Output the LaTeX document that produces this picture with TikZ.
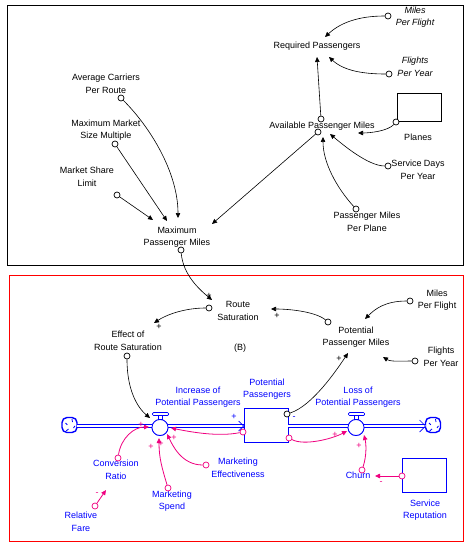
\documentclass[tikz,border=0pt]{standalone}
\usepackage{fontspec}
\setmainfont{Liberation Sans}
\usetikzlibrary{arrows.meta}
\definecolor{vblue}{RGB}{0,0,255}
\definecolor{vpink}{RGB}{240,0,128}
\definecolor{vred}{RGB}{255,0,0}
\begin{document}
\begin{tikzpicture}[x=1bp,y=-1bp,
 lab/.style={align=center,inner sep=0pt,font=\fontsize{9bp}{12.5bp}\selectfont},
 blab/.style={lab,text=vblue},
 ilab/.style={lab,font=\fontsize{9bp}{12.5bp}\selectfont\itshape},
 src/.style={circle,draw,inner sep=0pt,minimum size=6bp,line width=0.7bp,fill=white},
 psrc/.style={src,draw=vpink},
 lnk/.style={line width=0.6bp,-{Triangle[length=5bp,width=4.5bp]}},
 plnk/.style={lnk,draw=vpink,line width=0.8bp},
 pipe/.style={draw=vblue,double=white,double distance=2.2bp,line width=0.9bp},
 sgn/.style={inner sep=0pt,font=\fontsize{9bp}{10bp}\selectfont},
 psgn/.style={sgn,text=vpink},
 bsgn/.style={sgn,text=vblue},
 stockbox/.style={rectangle,draw=vblue,line width=0.8bp,minimum width=44bp,minimum height=34bp,inner sep=0pt},
 valve/.style={circle,draw=vblue,line width=0.8bp,minimum size=16bp,inner sep=0pt,fill=white},
 cloudy/.style={rectangle,rounded corners=5bp,draw=vblue,line width=1.4bp,minimum width=15bp,minimum height=15bp,inner sep=0pt,fill=white}
]
\useasboundingbox (0,0) rectangle (471,551);
\fill[white] (0,0) rectangle (471,551);
% frames
\draw[line width=0.9bp] (7,5) rectangle (463,265);
\draw[vred,line width=0.9bp] (9,275) rectangle (463,541);

% ---------- top box ----------
\node[ilab] (mpfA) at (415,17) {Miles\\Per Flight};
\node[src] (mpfAc) at (388,16) {};
\node[lab] (rp) at (317,46) {Required Passengers};
\coordinate (rpa1) at (325,37);
\coordinate (rpa2) at (329,57);
\coordinate (rpa3) at (317,57);
\node[ilab] (fpyA) at (415,67) {Flights\\Per Year};
\node[src] (fpyAc) at (389,74) {};
\node[rectangle,draw,line width=0.8bp,minimum width=44bp,minimum height=28bp,inner sep=0pt] (planes) at (419,107) {};
\node[lab] (planesl) at (418,137) {Planes};
\node[src] (planesc) at (396,122) {};
\node[lab] (apm) at (322,126) {Available Passenger Miles};
\node[src] (apmc1) at (321,119) {};
\node[src] (apmc2) at (318,132) {};
\coordinate (apma1) at (358,133);
\coordinate (apma2) at (323,137);
\coordinate (apma3) at (330,134);
\node[lab] (sdpy) at (418,170) {Service Days\\Per Year};
\node[src] (sdpyc) at (388,166) {};
\node[lab] (pmpp) at (367,222) {Passenger Miles\\Per Plane};
\node[src] (pmppc) at (356,209) {};
\node[lab] (ac) at (106,84) {Average Carriers\\Per Route};
\node[src] (acc) at (121,98) {};
\node[lab] (mms) at (106,130) {Maximum Market\\Size Multiple};
\node[src] (mmsc) at (115,144) {};
\node[lab] (msl) at (87,177) {Market Share\\Limit};
\node[src] (mslc) at (117,195) {};
\node[lab] (mpm) at (177,237) {Maximum\\Passenger Miles};
\node[src] (mpmc) at (181,250) {};
\coordinate (mpma1) at (153,220);
\coordinate (mpma2) at (167,221);
\coordinate (mpma3) at (178,218);
\coordinate (mpma4) at (212,224);

\draw[lnk] (mpfAc) .. controls +(-30,0) and +(15,-14) .. (rpa1);
\draw[lnk] (fpyAc) .. controls +(-25,0) and +(15,14) .. (rpa2);
\draw[lnk] (apmc1) -- (rpa3);
\draw[lnk] (planesc) .. controls +(-8,9) and +(12,0) .. (apma1);
\draw[lnk] (apmc2) -- (mpma4);
\draw[lnk] (pmppc) .. controls +(-20,-22) and +(0,25) .. (apma2);
\draw[lnk] (sdpyc) .. controls +(-20,0) and +(12,10) .. (apma3);
\draw[lnk] (acc) .. controls +(30,30) and +(0,-45) .. (mpma3);
\draw[lnk] (mmsc) -- (mpma2);
\draw[lnk] (mslc) -- (mpma1);

% ---------- bottom box ----------
\node[lab] (rs) at (238,311) {Route\\Saturation};
\coordinate (rsa) at (212,300);
\node[src] (rsc) at (209,308) {};
\coordinate (ersa) at (154,323);
\node[lab] (ers) at (128,341) {Effect of\\Route Saturation};
\node[src] (ersc) at (127,356) {};
\node[lab] (ppm) at (356,337) {Potential\\Passenger Miles};
\node[src] (ppmc) at (328,322) {};
\coordinate (rsa2) at (271,309);
\node[lab] (mpfB) at (437,300) {Miles\\Per Flight};
\node[src] (mpfBc) at (410,301) {};
\coordinate (ppma1) at (365,319);
\node[lab] (fpyB) at (441,357) {Flights\\Per Year};
\node[src] (fpyBc) at (415,361) {};
\coordinate (ppma2) at (383,357);
\coordinate (ppma3) at (348,353);
\node[lab] (loopB) at (240,348) {(B)};

% stock and flow
\node[cloudy] (cloudL) at (69.5,425) {};
\node[valve] (valveL) at (160,427.5) {};
\node[stockbox] (stock) at (266,425) {};
\node[valve] (valveR) at (356,427.5) {};
\node[cloudy] (cloudR) at (433,425) {};
\foreach \c in {cloudL,cloudR}{
  \draw[vblue,line width=0.8bp] ([shift={(-4,-2)}]\c.center) arc[start angle=200,end angle=250,radius=3bp];
  \draw[vblue,line width=0.8bp] ([shift={(3,-3)}]\c.center) arc[start angle=-20,end angle=40,radius=3bp];
  \draw[vblue,line width=0.8bp] ([shift={(-1,4)}]\c.center) arc[start angle=100,end angle=160,radius=3bp];
  \draw[vblue,line width=0.8bp] ([shift={(4,3)}]\c.center) arc[start angle=300,end angle=350,radius=3bp];
}
\coordinate (pl1) at (77,426);
\coordinate (pl2) at (152,426);
\coordinate (pl3) at (168,426);
\coordinate (pl4) at (348,426);
\coordinate (pl5) at (364,426);
\coordinate (pl6) at (425.5,426);
\draw[pipe] (pl1) -- (pl2);
\draw[pipe] (pl3) -- (stock.west |- pl3);
\draw[pipe] (stock.east |- pl4) -- (pl4);
\draw[pipe] (pl5) -- (pl6);
\node[valve] at (valveL) {};
\node[valve] at (valveR) {};
\draw[vblue,line width=0.7bp] ([shift={(-5,-5)}]stock.west |- pl3) -- (stock.west |- pl3) -- ([shift={(-5,5)}]stock.west |- pl3);
\draw[vblue,line width=0.7bp] ([shift={(-6,-6)}]pl6) -- (pl6) -- ([shift={(-6,6)}]pl6);
\foreach \v in {valveL,valveR}{
  \draw[vblue,line width=0.7bp,fill=white,rounded corners=1bp] ([shift={(-7.5,-15)}]\v.center) rectangle ([shift={(8.5,-12)}]\v.center);
  \draw[vblue,line width=0.7bp,fill=white] ([shift={(-2,-12)}]\v.center) rectangle ([shift={(2,-8)}]\v.center);
}
\node[blab] (incl) at (198,397) {Increase of\\Potential Passengers};
\node[blab] (stockl) at (267,389) {Potential\\Passengers};
\node[blab] (lossl) at (358,397) {Loss of\\Potential Passengers};
\node[src] (stockc) at (287,414) {};
\coordinate (vla) at (150,418);

\draw[lnk] (mpmc) .. controls +(2,25) and +(-12,-10) .. (rsa);
\draw[lnk] (rsc) .. controls +(-25,0) and +(12,-8) .. (ersa);
\draw[lnk] (ppmc) .. controls +(-12,-10) and +(20,0) .. (rsa2);
\draw[lnk] (mpfBc) .. controls +(-25,0) and +(10,-10) .. (ppma1);
\draw[lnk] (fpyBc) .. controls +(-12,0) and +(8,5) .. (ppma2);
\draw[lnk] (ersc) .. controls +(0,35) and +(-12,-10) .. (vla);
\draw[lnk] (stockc) .. controls +(25,-8) and +(-12,18) .. (ppma3);

\node[sgn] at (209,296) {+};
\node[sgn] at (159,327) {+};
\node[sgn] at (277,316) {+};
\node[sgn] at (339,359) {+};
\node[bsgn] at (234,417) {+};
\node[bsgn] at (294,418) {-};

% pink links
\node[blab] (cr) at (116,470) {Conversion\\Ratio};
\node[psrc] (crc) at (118,458) {};
\coordinate (cra) at (149,427);
\node[blab] (rf) at (81,522) {Relative\\Fare};
\node[psrc] (rfc) at (95,506) {};
\coordinate (rfa) at (106,490);
\node[blab] (ms) at (172,501) {Marketing\\Spend};
\node[psrc] (msc) at (168,488) {};
\coordinate (msa) at (159,438);
\node[blab] (me) at (238,468) {Marketing\\Effectiveness};
\node[psrc] (mec) at (206,465) {};
\coordinate (mea) at (167,434);
\node[psrc] (spc1) at (243,432) {};
\coordinate (spa1) at (171,428);
\node[psrc] (spc2) at (289,438) {};
\coordinate (spa2) at (347,431);
\node[blab] (churn) at (358,475) {Churn};
\node[psrc] (churnc) at (362,470) {};
\coordinate (churna) at (364,435);
\node[stockbox] (srep) at (424.5,475) {};
\node[blab] (srepl) at (425,510) {Service\\Reputation};
\node[psrc] (srepc) at (402,476) {};
\coordinate (srepa) at (375,476);

\draw[plnk] (crc) .. controls +(3,-20) and +(-15,0) .. (cra);
\draw[plnk] (rfc) -- (rfa);
\draw[plnk] (msc) .. controls +(-6,-20) and +(0,20) .. (msa);
\draw[plnk] (mec) .. controls +(-25,0) and +(5,10) .. (mea);
\draw[plnk] (spc1) .. controls +(-25,5) and +(20,4) .. (spa1);
\draw[plnk] (spc2) .. controls +(15,8) and +(-15,8) .. (spa2);
\draw[plnk] (churnc) .. controls +(5,-15) and +(2,8) .. (churna);
\draw[plnk] (srepc) -- (srepa);

\node[psgn] at (141,425) {+};
\node[psgn] at (151,447) {+};
\node[psgn] at (161,444) {+};
\node[psgn] at (174,438) {+};
\node[psgn] at (335,435) {+};
\node[psgn] at (359,446) {+};
\node[psgn] at (97,494) {-};
\node[psgn] at (381,483) {-};
\end{tikzpicture}
\end{document}
